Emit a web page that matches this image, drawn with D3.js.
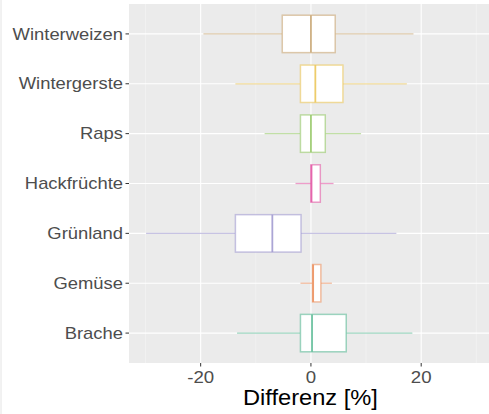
<!DOCTYPE html>
<html>
<head>
<meta charset="utf-8">
<script src="https://cdn.jsdelivr.net/npm/d3@7"></script>
<style>
  body { margin: 0; background: #fff; }
  text { font-family: "Liberation Sans", Arial, sans-serif; }
</style>
</head>
<body>
<svg id="chart"></svg>
<script>
const width = 489;
const height = 414;

// data (Differenz in %)
const categories = ["Winterweizen", "Wintergerste", "Raps", "Hackfrüchte", "Grünland", "Gemüse", "Brache"];
const whiskerLow = [-19.5, -13.7, -8.4, -2.8, -29.9, -1.9, -13.4];
const q1 = [-5.2, -1.9, -1.9, 0.0, -13.7, 0.3, -1.9];
const median = [0.0, 0.8, 0.0, 0.1, -7.0, 0.4, 0.2];
const q3 = [4.4, 5.8, 2.6, 1.7, -1.8, 1.8, 6.4];
const whiskerHigh = [18.6, 17.4, 9.1, 4.1, 15.5, 3.8, 18.4];
const colors = ["#C9A775", "#EBC65A", "#98C96A", "#E35BA6", "#A29BD0", "#EC9262", "#5DBB97"];
const majorTicks = [-20, 0, 20];
const minorTicks = [-30, -10, 10, 30];

const margin = { top: 4, right: 0, bottom: 51, left: 129 };
const innerW = width - margin.left - margin.right;
const innerH = height - margin.top - margin.bottom;

const svg = d3.select("#chart").attr("width", width).attr("height", height);

// faint border at the left of the image
svg.append("line")
  .attr("x1", 1).attr("x2", 1).attr("y1", 0).attr("y2", height)
  .attr("stroke", "#e4e4e4").attr("stroke-width", 1);

const g = svg.append("g").attr("transform", `translate(${margin.left},${margin.top})`);

const x = d3.scaleLinear().domain([-33.0, 32.3]).range([0, innerW]);
const y = d3.scaleBand().domain(categories).range([0, innerH]).paddingOuter(0.1).paddingInner(0);
// ggplot style: box width 0.75 of category step
const step = y.step();
const boxH = step * 0.75;

// panel
g.append("rect").attr("width", innerW).attr("height", innerH).attr("fill", "#ebebeb");

// grid
g.selectAll(".minor").data(minorTicks).join("line")
  .attr("x1", d => x(d)).attr("x2", d => x(d))
  .attr("y1", 0).attr("y2", innerH)
  .attr("stroke", "#f5f5f5").attr("stroke-width", 0.6);
g.selectAll(".major").data(majorTicks).join("line")
  .attr("x1", d => x(d)).attr("x2", d => x(d))
  .attr("y1", 0).attr("y2", innerH)
  .attr("stroke", "#ffffff").attr("stroke-width", 1.1);
g.selectAll(".hgrid").data(categories).join("line")
  .attr("x1", 0).attr("x2", innerW)
  .attr("y1", d => y(d) + step / 2).attr("y2", d => y(d) + step / 2)
  .attr("stroke", "#ffffff").attr("stroke-width", 1.1);

// boxes
const rows = categories.map((c, i) => ({
  cat: c, lo: whiskerLow[i], q1: q1[i], med: median[i], q3: q3[i], hi: whiskerHigh[i], col: colors[i]
}));

const box = g.selectAll(".box").data(rows).join("g")
  .attr("transform", d => `translate(0,${y(d.cat) + step / 2})`);

box.append("line")
  .attr("x1", d => x(d.lo)).attr("x2", d => x(d.q1))
  .attr("stroke", d => d.col).attr("stroke-opacity", 0.6).attr("stroke-width", 1.3);
box.append("line")
  .attr("x1", d => x(d.q3)).attr("x2", d => x(d.hi))
  .attr("stroke", d => d.col).attr("stroke-opacity", 0.6).attr("stroke-width", 1.3);
box.append("rect")
  .attr("x", d => x(d.q1)).attr("width", d => x(d.q3) - x(d.q1))
  .attr("y", -boxH / 2).attr("height", boxH)
  .attr("fill", "#ffffff")
  .attr("stroke", d => d.col).attr("stroke-opacity", 0.6).attr("stroke-width", 1.5);
box.append("line")
  .attr("x1", d => x(d.med)).attr("x2", d => x(d.med))
  .attr("y1", -boxH / 2).attr("y2", boxH / 2)
  .attr("stroke", d => d.col).attr("stroke-opacity", 0.9).attr("stroke-width", 1.8);

// y axis
g.selectAll(".ytick").data(categories).join("line")
  .attr("x1", -3.5).attr("x2", 0)
  .attr("y1", d => y(d) + step / 2).attr("y2", d => y(d) + step / 2)
  .attr("stroke", "#333").attr("stroke-width", 1);
g.selectAll(".ylab").data(categories).join("text")
  .attr("transform", d => `translate(-6,${y(d) + step / 2}) scale(1.15,1)`)
  .attr("dy", "0.35em")
  .attr("text-anchor", "end")
  .attr("fill", "#4d4d4d")
  .style("font-size", "16px")
  .text(d => d);

// x axis
g.selectAll(".xtick").data(majorTicks).join("line")
  .attr("x1", d => x(d)).attr("x2", d => x(d))
  .attr("y1", innerH).attr("y2", innerH + 3.5)
  .attr("stroke", "#333").attr("stroke-width", 1);
g.selectAll(".xlab").data(majorTicks).join("text")
  .attr("transform", d => `translate(${x(d)},${innerH + 20}) scale(1.13,1)`)
  .attr("text-anchor", "middle")
  .attr("fill", "#4d4d4d")
  .style("font-size", "16.5px")
  .text(d => d < 0 ? "-" + Math.abs(d) : String(d));

svg.append("text")
  .attr("transform", `translate(${margin.left + x(0) - 0.5},${height - 9}) scale(1.1,1)`)
  .attr("text-anchor", "middle")
  .attr("fill", "#000")
  .style("font-size", "21.5px")
  .text("Differenz [%]");
</script>
</body>
</html>
